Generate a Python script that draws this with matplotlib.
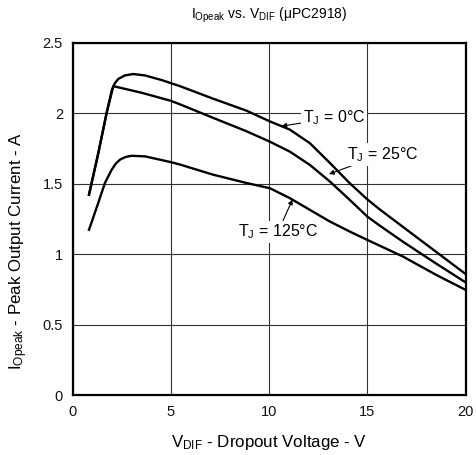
import matplotlib
matplotlib.use("Agg")
import matplotlib.pyplot as plt

plt.rcParams['font.family'] = ['Liberation Sans', 'DejaVu Sans']
plt.rcParams['mathtext.fontset'] = 'custom'
plt.rcParams['mathtext.rm'] = 'Liberation Sans'
plt.rcParams['mathtext.it'] = 'Liberation Sans'

# Peak output current vs dropout voltage
v_0c = [0.83, 1.30, 1.73, 1.90, 2.00, 2.15, 2.32, 2.66, 3.08, 3.68, 4.53, 5.46, 7.15, 8.85,
        10.04, 11.05, 12.07, 13.09, 14.10, 14.99, 15.63, 16.82, 18.51, 19.95]
i_0c = [1.424, 1.716, 2.005, 2.110, 2.170, 2.215, 2.245, 2.270, 2.280, 2.270, 2.237, 2.194, 2.105, 2.020,
        1.944, 1.886, 1.790, 1.650, 1.506, 1.392, 1.320, 1.195, 1.018, 0.867]

v_25c = [0.83, 1.30, 1.73, 2.07, 3.51, 5.00, 5.46, 7.15, 8.85,
         10.04, 11.05, 12.07, 13.09, 14.10, 14.99, 15.63, 16.82, 18.51, 19.95]
i_25c = [1.424, 1.716, 2.005, 2.194, 2.147, 2.090, 2.065, 1.969, 1.874,
         1.800, 1.730, 1.636, 1.518, 1.388, 1.270, 1.205, 1.090, 0.935, 0.807]

v_125c = [0.83, 1.30, 1.64, 1.98, 2.20, 2.41, 2.70, 3.00, 3.68, 5.00, 5.46, 7.15, 8.85,
          10.04, 11.05, 12.07, 13.09, 14.10, 14.99, 16.82, 18.51, 19.95]
i_125c = [1.175, 1.365, 1.507, 1.600, 1.645, 1.673, 1.692, 1.700, 1.696, 1.655, 1.638, 1.566, 1.507,
          1.470, 1.400, 1.317, 1.234, 1.163, 1.104, 0.985, 0.855, 0.753]

x_ticks = [0, 5, 10, 15, 20]
y_ticks = [0, 0.5, 1, 1.5, 2, 2.5]
y_ticklabels = ['0', '0.5', '1', '1.5', '2', '2.5']

fig = plt.figure(figsize=(4.76, 4.55), dpi=100)
ax = fig.add_axes([0.1527, 0.1308, 0.8253, 0.7747])

ax.set_xlim(0, 20)
ax.set_ylim(0, 2.5)
ax.set_xticks(x_ticks)
ax.set_yticks(y_ticks)
ax.set_yticklabels(y_ticklabels)
ax.tick_params(length=0, labelsize=10.5, colors='#111')
ax.tick_params(axis='x', pad=7)
ax.tick_params(axis='y', pad=7)
ax.grid(True, color='#333333', lw=0.8)
ax.set_axisbelow(True)
for s in ax.spines.values():
    s.set_linewidth(1.6)

for v, i in [(v_0c, i_0c), (v_25c, i_25c), (v_125c, i_125c)]:
    ax.plot(v, i, color='black', lw=1.7, solid_joinstyle='round', zorder=3)

box = dict(facecolor='white', edgecolor='none', pad=1.5)
arrow = dict(arrowstyle='-|>', color='black', lw=0.8, mutation_scale=7,
             shrinkA=0, shrinkB=0)

ax.annotate(r'T$_\mathrm{J}$ = 0°C', xy=(10.63, 1.91), xytext=(11.72, 1.97),
            fontsize=11.5, va='center', ha='left', bbox=box, arrowprops=arrow, zorder=4)
ax.annotate(r'T$_\mathrm{J}$ = 25°C', xy=(13.05, 1.57), xytext=(13.95, 1.71),
            fontsize=11.5, va='center', ha='left', bbox=box, arrowprops=arrow, zorder=4)
ax.annotate(r'T$_\mathrm{J}$ = 125°C', xy=(11.19, 1.39), xytext=(8.41, 1.16),
            fontsize=11.5, va='center', ha='left', bbox=box, arrowprops=arrow, zorder=4)

fig.text(0.566, 0.967, r'I$_\mathrm{Opeak}$ vs. V$_\mathrm{DIF}$ (μPC2918)',
         fontsize=10, ha='center', va='center')
ax.set_xlabel(r'V$_\mathrm{DIF}$ - Dropout Voltage - V', fontsize=12.2, labelpad=10)
ax.set_ylabel(r'I$_\mathrm{Opeak}$ - Peak Output Current - A', fontsize=12.2)
ax.yaxis.set_label_coords(-0.108, 0.41)

fig.savefig('out.png', dpi=100)
